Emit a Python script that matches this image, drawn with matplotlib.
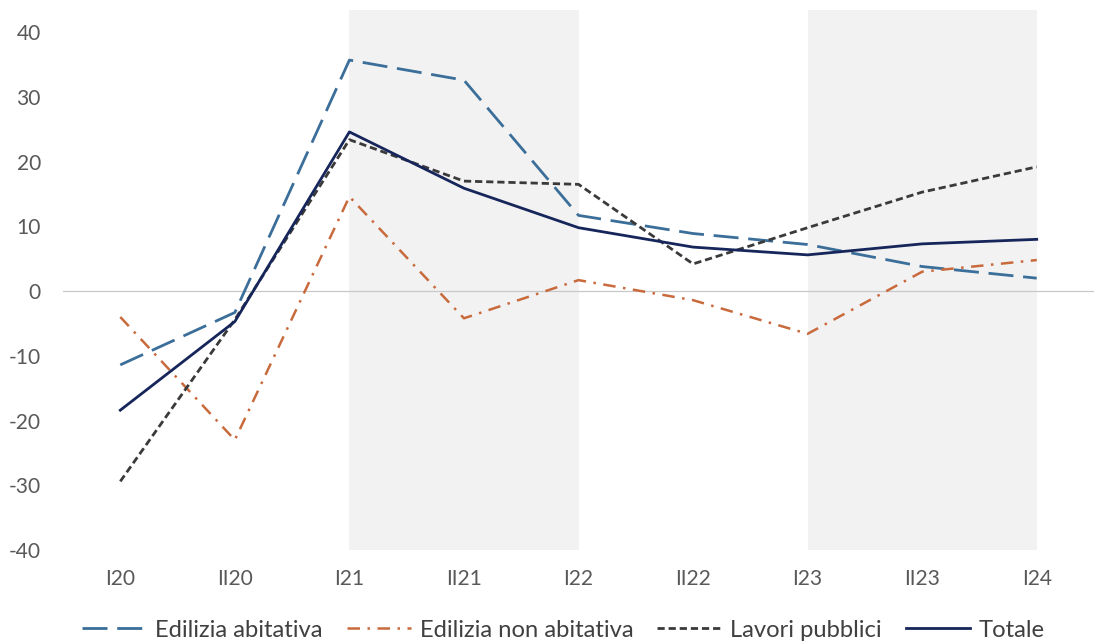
import matplotlib
matplotlib.use("Agg")
import matplotlib.pyplot as plt
from matplotlib import font_manager

categories = ["I20", "II20", "I21", "II21", "I22", "II22", "I23", "II23", "I24"]
abitativa = [-11.4, -3.3, 35.7, 32.6, 11.7, 8.9, 7.2, 3.8, 2.0]
non_abitativa = [-4.0, -23.0, 14.6, -4.2, 1.7, -1.4, -6.6, 3.0, 4.8]
lavori_pubblici = [-29.4, -4.4, 23.4, 17.0, 16.5, 4.2, 9.8, 15.3, 19.2]
totale = [-18.4, -4.7, 24.6, 15.9, 9.8, 6.8, 5.6, 7.3, 8.0]
shaded = [("I21", "I22"), ("I23", "I24")]
yticks = [-40, -30, -20, -10, 0, 10, 20, 30, 40]

avail = {f.name for f in font_manager.fontManager.ttflist}
fams = [f for f in ["Lato", "Open Sans"] if f in avail]
plt.rcParams['font.family'] = fams + ['DejaVu Sans']

fig = plt.figure(figsize=(10.94, 6.41), dpi=100)
ax = fig.add_axes([0.0576, 0.142, 0.9424, 0.842])

# size legend text so its width matches the reference
r = fig.canvas.get_renderer()
t = fig.text(0, 0, "Edilizia abitativa", fontsize=10)
w10 = t.get_window_extent(r).width
t.remove()
leg_fs = 10 * 168.0 / w10
t = fig.text(0, 0, "I20", fontsize=10)
w10b = t.get_window_extent(r).width
t.remove()
tick_fs = 10 * 30.0 / w10b

x = list(range(len(categories)))
for a, b in shaded:
    ax.axvspan(categories.index(a), categories.index(b), color="#F2F2F2", zorder=0, lw=0)

ax.axhline(0, color="#C8C8C8", lw=0.9, zorder=1)

l1, = ax.plot(x, abitativa, color="#3B6E99", lw=2.0, dashes=(9, 3.5), label="Edilizia abitativa", zorder=3)
l2, = ax.plot(x, non_abitativa, color="#C86A3C", lw=1.8, dashes=(5, 3, 1, 3), label="Edilizia non abitativa", zorder=3)
l3, = ax.plot(x, lavori_pubblici, color="#3A3A3A", lw=2.0, dashes=(2.6, 1.4), label="Lavori pubblici", zorder=3)
l4, = ax.plot(x, totale, color="#16265A", lw=2.0, label="Totale", zorder=4)

ax.set_xlim(-0.5, len(categories) - 0.5)
ax.set_ylim(-40, 43.4)
ax.set_xticks(x)
ax.set_xticklabels(categories)
ax.set_yticks(yticks)
ax.set_yticklabels([str(v) for v in yticks])
ax.tick_params(axis="both", length=0, colors="#595959", labelsize=tick_fs)
ax.tick_params(axis="x", pad=14)
ax.tick_params(axis="y", pad=16)
for s in ax.spines.values():
    s.set_visible(False)

px_per_fs = leg_fs * 100 / 72.0
leg = fig.legend(handles=[l1, l2, l3, l4], loc="center", bbox_to_anchor=(0.515, 0.017),
                 ncol=4, frameon=False, fontsize=leg_fs, handlelength=64 / px_per_fs,
                 columnspacing=24 / px_per_fs, handletextpad=9 / px_per_fs,
                 labelcolor="#404040", borderpad=0)

fig.savefig("out.png", dpi=100)
